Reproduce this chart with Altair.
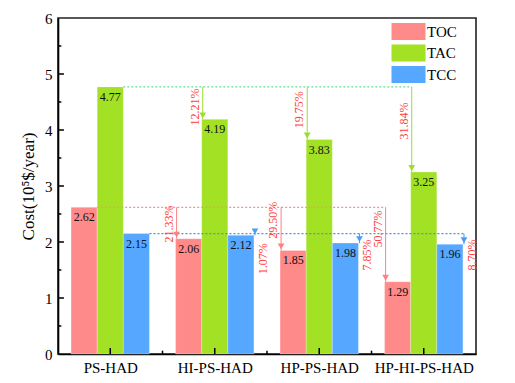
import altair as alt
import pandas as pd

# ---------------- data ----------------
categories = ["PS-HAD", "HI-PS-HAD", "HP-PS-HAD", "HP-HI-PS-HAD"]
series = ["TOC", "TAC", "TCC"]
toc = [2.62, 2.06, 1.85, 1.29]
tac = [4.77, 4.19, 3.83, 3.25]
tcc = [2.15, 2.12, 1.98, 1.96]

toc_pct = ["21.33%", "29.50%", "50.77%"]
tac_pct = ["12.21%", "19.75%", "31.84%"]
tcc_pct = ["1.07%", "7.85%", "8.70%"]
# vertical centre of each percentage label (data units)
toc_pct_y = [2.32, 2.39, 2.23]
tac_pct_y = [4.41, 4.36, 4.16]
tcc_pct_y = [1.70, 1.77, 1.77]

colors = {"TOC": "#FF8A8A", "TAC": "#A2E123", "TCC": "#55A7FF"}
ref_colors = {"TOC": "#FF8F8F", "TAC": "#66DD99", "TCC": "#3F95F0"}
arrow_colors = {"TOC": "#FF8080", "TAC": "#9BDD2A", "TCC": "#4A9CF5"}

values = {"TOC": toc, "TAC": tac, "TCC": tcc}
pcts = {"TOC": toc_pct, "TAC": tac_pct, "TCC": tcc_pct}
pct_ys = {"TOC": toc_pct_y, "TAC": tac_pct_y, "TCC": tcc_pct_y}

BAR_W = 0.25
GROUP_PAD = 0.125

# ---------------- tables ----------------
bar_rows = []
for i, cat in enumerate(categories):
    for s, name in enumerate(series):
        x0 = i + GROUP_PAD + BAR_W * s
        bar_rows.append({"cat": cat, "series": name, "x0": x0, "x1": x0 + BAR_W,
                         "xm": x0 + BAR_W / 2, "v": values[name][i], "base": 0.0,
                         "lab": f"{values[name][i]:.2f}"})
bars = pd.DataFrame(bar_rows)

arrow_rows, ref_rows = [], []
for s, name in enumerate(series):
    ref = values[name][0]
    xs = []
    for i in range(1, len(categories)):
        x0 = i + GROUP_PAD + BAR_W * s
        if name == "TCC":
            ax, side = x0 + BAR_W + 0.01, 1
        else:
            ax, side = x0 + 0.01, -1
        xs.append(ax)
        arrow_rows.append({"series": name, "x": ax, "ref": ref, "v": values[name][i],
                           "pct": pcts[name][i - 1], "py": pct_ys[name][i - 1], "side": side})
    start = GROUP_PAD + BAR_W * (s + 1)
    ref_rows.append({"series": name, "x": start, "x2": max(xs), "y": ref})
arrows = pd.DataFrame(arrow_rows)
refs = pd.DataFrame(ref_rows)

xmaj = pd.DataFrame({"x": [i + 0.5 for i in range(4)], "y": 0.0, "y2": 0.107})
xmin = pd.DataFrame({"x": [1.0, 2.0, 3.0], "y": 0.0, "y2": 0.06})
ymaj = pd.DataFrame({"y": [1, 2, 3, 4, 5], "x": 0.0, "x2": 0.057})
ymin = pd.DataFrame({"y": [0.5, 1.5, 2.5, 3.5, 4.5, 5.5], "x": 0.0, "x2": 0.032})

xscale = alt.Scale(domain=[0, 4], nice=False, zero=False)
yscale = alt.Scale(domain=[0, 6], nice=False)

label_expr = ("datum.value == 0.5 ? 'PS-HAD' : datum.value == 1.5 ? 'HI-PS-HAD' : "
              "datum.value == 2.5 ? 'HP-PS-HAD' : 'HP-HI-PS-HAD'")

bar_layer = alt.Chart(bars).mark_bar(stroke="white", strokeOpacity=0.35, strokeWidth=0.8).encode(
    x=alt.X("x0:Q", scale=xscale,
            axis=alt.Axis(values=[0.5, 1.5, 2.5, 3.5], labelExpr=label_expr, title=None,
                          ticks=False, grid=False, labelFontSize=15, labelPadding=6,
                          domainColor="black", domainWidth=1.6)),
    x2="x1:Q",
    y=alt.Y("v:Q", scale=yscale,
            axis=alt.Axis(values=[0, 1, 2, 3, 4, 5, 6], format="d", title="Cost(10⁵$/year)",
                          ticks=False, grid=False, labelFontSize=15, labelPadding=6,
                          titleFontSize=17, titleFontWeight="normal", titlePadding=7,
                          domainColor="black", domainWidth=1.6)),
    y2="base:Q",
    color=alt.Color("series:N", scale=alt.Scale(domain=series, range=[colors[s] for s in series]),
                    legend=alt.Legend(title=None, orient="none", legendX=342, legendY=5,
                                      symbolType="M-2,-1H2V1H-2Z", symbolSize=289,
                                      symbolStrokeWidth=0, labelFontSize=15, labelOffset=10,
                                      rowPadding=4.5)),
)

value_text = alt.Chart(bars).mark_text(baseline="top", dy=5, fontSize=12, color="#111").encode(
    x=alt.X("xm:Q", scale=xscale), y=alt.Y("v:Q", scale=yscale), text="lab:N")

ref_lines = alt.Chart(refs).mark_rule(strokeDash=[2, 2], strokeWidth=1.3).encode(
    x=alt.X("x:Q", scale=xscale), x2="x2:Q", y=alt.Y("y:Q", scale=yscale),
    color=alt.Color("series:N", scale=alt.Scale(domain=series, range=[ref_colors[s] for s in series]),
                    legend=None))

arrow_lines = alt.Chart(arrows).mark_rule(strokeWidth=1).encode(
    x=alt.X("x:Q", scale=xscale), y=alt.Y("ref:Q", scale=yscale), y2="v:Q",
    color=alt.Color("series:N", scale=alt.Scale(domain=series, range=[arrow_colors[s] for s in series]),
                    legend=None))

arrow_heads = alt.Chart(arrows).mark_point(shape="triangle-down", filled=True, size=45,
                                           opacity=1, yOffset=-4).encode(
    x=alt.X("x:Q", scale=xscale), y=alt.Y("v:Q", scale=yscale),
    color=alt.Color("series:N", scale=alt.Scale(domain=series, range=[arrow_colors[s] for s in series]),
                    legend=None))

pct_left = alt.Chart(arrows).transform_filter("datum.side < 0").mark_text(
    angle=270, fontSize=12, color="#FF4040", xOffset=-8, baseline="middle", align="center").encode(
    x=alt.X("x:Q", scale=xscale), y=alt.Y("py:Q", scale=yscale), text="pct:N")
pct_right = alt.Chart(arrows).transform_filter("datum.side > 0").mark_text(
    angle=270, fontSize=12, color="#FF4040", xOffset=8, baseline="middle", align="center").encode(
    x=alt.X("x:Q", scale=xscale), y=alt.Y("py:Q", scale=yscale), text="pct:N")

def tick_layer(df, vertical):
    if vertical:
        enc = dict(x=alt.X("x:Q", scale=xscale), y=alt.Y("y:Q", scale=yscale), y2="y2:Q")
    else:
        enc = dict(y=alt.Y("y:Q", scale=yscale), x=alt.X("x:Q", scale=xscale), x2="x2:Q")
    return alt.Chart(df).mark_rule(color="black", strokeWidth=1.5).encode(**enc)

chart = alt.layer(
    bar_layer, ref_lines, arrow_lines, arrow_heads, value_text, pct_left, pct_right,
    tick_layer(xmaj, True), tick_layer(xmin, True), tick_layer(ymaj, False), tick_layer(ymin, False),
).resolve_scale(color="independent").properties(
    width=418, height=336,
    autosize=alt.AutoSizeParams(type="none"),
    padding={"left": 50, "top": 10, "right": 30, "bottom": 20},
).configure(font="Liberation Serif").configure_view(
    stroke="#222", strokeWidth=1.6
).configure_axis(labelColor="black", titleColor="black", labelFont="Liberation Serif",
                 titleFont="Liberation Serif").configure_legend(
    labelFont="Liberation Serif", labelColor="black")

chart.save("out.html", embed_options={"renderer": "svg", "actions": False})
